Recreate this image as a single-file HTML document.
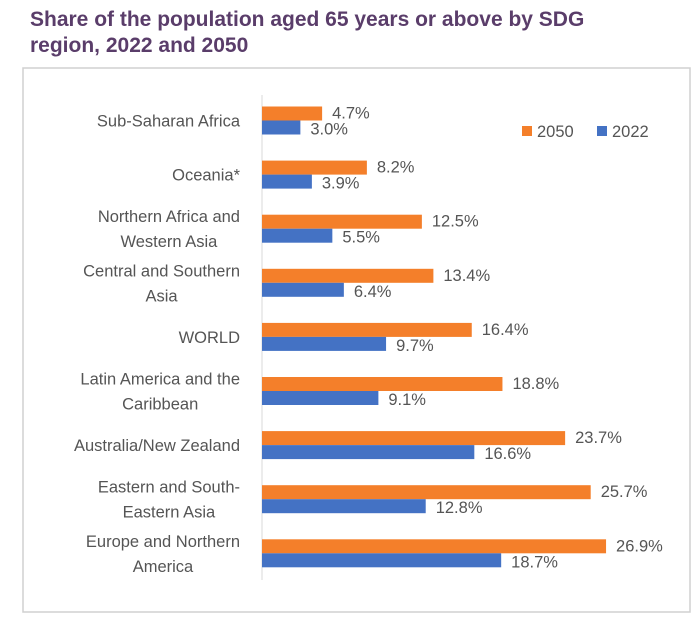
<!DOCTYPE html>
<html><head><meta charset="utf-8"><style>
body{margin:0;background:#fff;width:700px;height:618px;overflow:hidden;font-family:"Liberation Sans",sans-serif}
#title{position:absolute;left:30px;top:7px;font-size:21px;font-weight:bold;color:#5a3d6a;line-height:26px}
</style></head><body>
<div id="title">Share of the population aged 65 years or above by SDG<br>region, 2022 and 2050</div>
<svg id="chart" width="700" height="618" style="position:absolute;left:0;top:0"></svg>
<script>
const categories=[["Sub-Saharan Africa"],["Oceania*"],["Northern Africa and","Western Asia"],["Central and Southern","Asia"],["WORLD"],["Latin America and the","Caribbean"],["Australia/New Zealand"],["Eastern and South-","Eastern Asia"],["Europe and Northern","America"]];
const values2050=[4.7,8.2,12.5,13.4,16.4,18.8,23.7,25.7,26.9];
const values2022=[3.0,3.9,5.5,6.4,9.7,9.1,16.6,12.8,18.7];
const NS="http://www.w3.org/2000/svg";
const svg=document.getElementById('chart');
const x0=262,pxPer=12.79;
const xs=v=>x0+v*pxPer;
const ys=i=>120.5+i*54.1;
function mk(t,a,txt){const e=document.createElementNS(NS,t);for(const k in a)e.setAttribute(k,a[k]);if(txt!==undefined)e.textContent=txt;svg.appendChild(e);return e;}
let b=mk('rect',{x:23,y:68,width:667,height:544,fill:'none',stroke:'#d0d0d0','stroke-width':1.5});

let ax=mk('line',{x1:x0,x2:x0,y1:95,y2:580,stroke:'#d9d9d9','stroke-width':1});

const f='font-family:"Liberation Sans",sans-serif;font-size:16.5px;fill:#555';
categories.forEach((c,i)=>{
 const y=ys(i);
 let r1=mk('rect',{x:x0,y:y-14,width:xs(values2050[i])-x0,height:14,fill:'#f47f2a'});
 
 let r2=mk('rect',{x:x0,y:y,width:xs(values2022[i])-x0,height:14,fill:'#4472c4'});
 
 let t1=mk('text',{x:xs(values2050[i])+10,y:y-2,style:f},values2050[i].toFixed(1)+'%');
 
 let t2=mk('text',{x:xs(values2022[i])+10,y:y+14,style:f},values2022[i].toFixed(1)+'%');
 
 const ts=[];let w=0;
 c.forEach((line,j)=>{
  const ly=y+6+(j-(c.length-1)/2)*25;
  let t=mk('text',{x:0,y:ly,'text-anchor':'middle',style:f},line);
  
  ts.push(t);w=Math.max(w,t.getComputedTextLength());
 });
 ts.forEach(t=>t.setAttribute('x',240-w/2));
});
let l1=mk('rect',{x:522,y:126,width:10,height:10,fill:'#f47f2a'});
let lt1=mk('text',{x:537,y:137,style:f},'2050');
let l2=mk('rect',{x:597,y:126,width:10,height:10,fill:'#4472c4'});
let lt2=mk('text',{x:612,y:137,style:f},'2022');
</script>
</body></html>
